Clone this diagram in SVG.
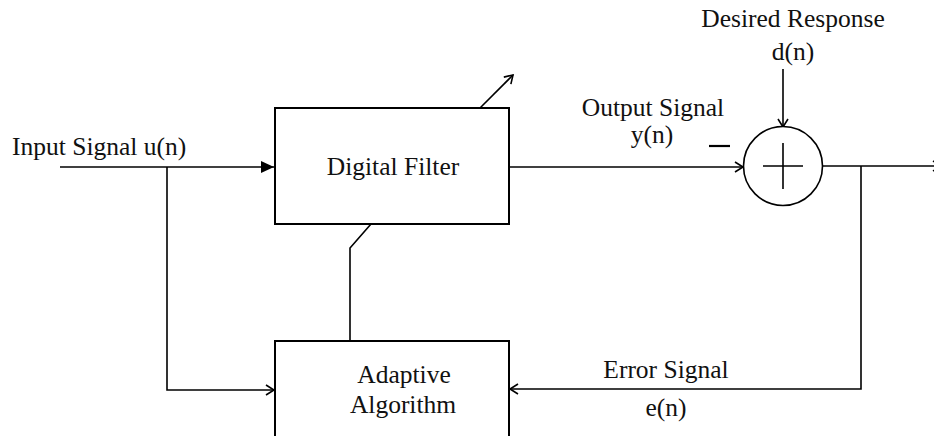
<svg xmlns="http://www.w3.org/2000/svg" width="934" height="436" viewBox="0 0 934 436">
<style>
.box{fill:#ffffff;stroke:#000;stroke-width:2}
.ln{fill:none;stroke:#000;stroke-width:1.6}
.t{font-family:"Liberation Serif","Times New Roman",serif;font-size:25.5px;fill:#111}
.c{text-anchor:middle}
</style>
<defs>
<marker id="open" markerWidth="12" markerHeight="12" refX="10" refY="6" orient="auto" markerUnits="userSpaceOnUse">
<path d="M2,1 L10,6 L2,11" fill="none" stroke="#000" stroke-width="1.6"/>
</marker>
<marker id="filled" markerWidth="14" markerHeight="14" refX="13" refY="7" orient="auto" markerUnits="userSpaceOnUse">
<path d="M0,1 L13,7 L0,13 Z" fill="#000"/>
</marker>
</defs>
<rect width="934" height="436" fill="#fff"/>
<g id="connectors">
<path class="ln" d="M60,167 L274,167" marker-end="url(#filled)"/>
<path class="ln" d="M167,167 L167,390 L274,390" marker-end="url(#open)"/>
<path class="ln" d="M509,167 L743,167" marker-end="url(#open)"/>
<path class="ln" d="M783,69 L783,127" marker-end="url(#open)"/>
<path class="ln" d="M823,166 L941,166" marker-end="url(#open)"/>
<path class="ln" d="M861,166 L861,389 L510,389" marker-end="url(#open)"/>
<path class="ln" d="M371,224 L350,248 L350,341"/>
<path class="ln" d="M480,108 L513,75" marker-end="url(#open)"/>
</g>
<g id="digital-filter">
<rect class="box" x="275" y="108" width="234" height="116"/>
<text class="t c" x="393" y="175">Digital Filter</text>
</g>
<g id="adaptive-algorithm">
<rect class="box" x="275" y="341" width="234" height="120"/>
<text class="t c" x="404" y="383">Adaptive</text>
<text class="t c" x="403" y="413">Algorithm</text>
</g>
<g id="summer">
<circle cx="783" cy="166" r="39.5" fill="#fff" stroke="#000" stroke-width="1.6"/>
<path class="ln" d="M763,166 L803,166 M783,143 L783,189"/>
<path d="M709,146 L730,146" stroke="#000" stroke-width="2.2"/>
</g>
<g id="labels">
<text class="t" x="12" y="155">Input Signal u(n)</text>
<text class="t c" x="653" y="116">Output Signal</text>
<text class="t c" x="652" y="143">y(n)</text>
<text class="t c" x="793" y="27">Desired Response</text>
<text class="t c" x="793" y="60">d(n)</text>
<text class="t c" x="666" y="378">Error Signal</text>
<text class="t c" x="666" y="416">e(n)</text>
</g>
</svg>
